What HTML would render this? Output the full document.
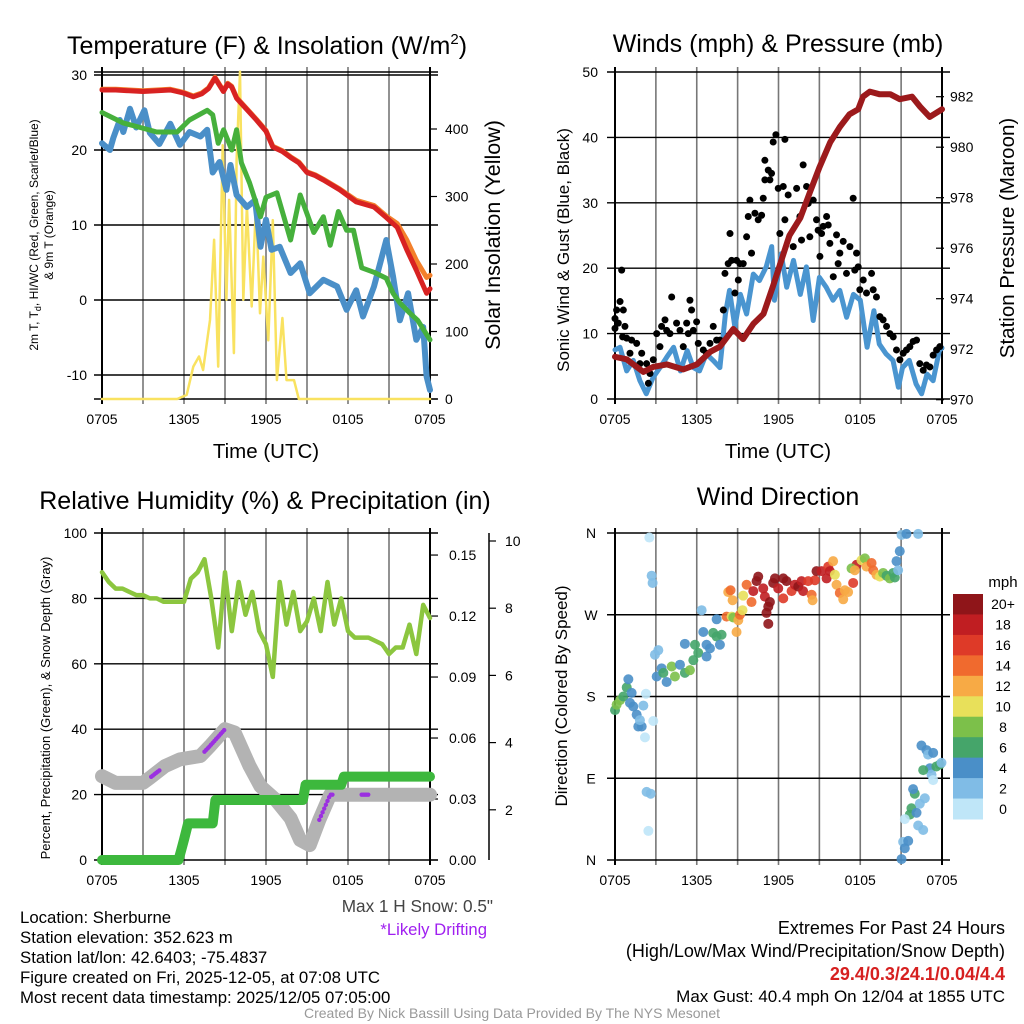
<!DOCTYPE html>
<html><head><meta charset="utf-8"><title>Mesonet Sherburne</title>
<style>
html,body{margin:0;padding:0;background:#fff;}
svg{display:block;font-family:"Liberation Sans",Arial,sans-serif;}
</style></head>
<body>
<svg id="c" width="1024" height="1024" viewBox="0 0 1024 1024" xmlns="http://www.w3.org/2000/svg">
<rect x="0" y="0" width="1024" height="1024" fill="#fff"/>
<g id="layer"></g>
<!-- titles -->
<text x="267" y="54" font-size="25" text-anchor="middle">Temperature (F) &amp; Insolation (W/m<tspan dy="-10" font-size="15">2</tspan><tspan dy="10">)</tspan></text>
<text x="778" y="52" font-size="25" text-anchor="middle">Winds (mph) &amp; Pressure (mb)</text>
<text x="265" y="509" font-size="25" text-anchor="middle">Relative Humidity (%) &amp; Precipitation (in)</text>
<text x="778" y="505" font-size="25" text-anchor="middle">Wind Direction</text>
<text x="266" y="458" font-size="20.5" text-anchor="middle">Time (UTC)</text>
<text x="778" y="458" font-size="20.5" text-anchor="middle">Time (UTC)</text>
<!-- axis titles -->
<text transform="translate(38,235) rotate(-90)" font-size="12" text-anchor="middle">2m T, T<tspan dy="3" font-size="9">d</tspan><tspan dy="-3">, HI/WC (Red, Green, Scarlet/Blue)</tspan></text>
<text transform="translate(53,235) rotate(-90)" font-size="12" text-anchor="middle">&amp; 9m T (Orange)</text>
<text transform="translate(500,235) rotate(-90)" font-size="21.5" text-anchor="middle">Solar Insolation (Yellow)</text>
<text transform="translate(569,250) rotate(-90)" font-size="17" text-anchor="middle">Sonic Wind &amp; Gust (Blue, Black)</text>
<text transform="translate(1014,238) rotate(-90)" font-size="20.5" text-anchor="middle">Station Pressure (Maroon)</text>
<text transform="translate(50,708) rotate(-90)" font-size="13" text-anchor="middle">Percent, Precipitation (Green), &amp; Snow Depth (Gray)</text>
<text transform="translate(567,696) rotate(-90)" font-size="17" text-anchor="middle">Direction (Colored By Speed)</text>
<!-- footer text -->
<text x="20" y="923" font-size="16.8">Location: Sherburne</text>
<text x="20" y="943" font-size="16.8">Station elevation: 352.623 m</text>
<text x="20" y="963" font-size="16.8">Station lat/lon: 42.6403; -75.4837</text>
<text x="20" y="983" font-size="16.8">Figure created on Fri, 2025-12-05, at 07:08 UTC</text>
<text x="20" y="1003" font-size="16.8">Most recent data timestamp: 2025/12/05 07:05:00</text>
<text x="493" y="912" font-size="17.2" text-anchor="end" fill="#444">Max 1 H Snow: 0.5"</text>
<text x="487" y="935" font-size="16.7" text-anchor="end" fill="#a020f0">*Likely Drifting</text>
<text x="1005" y="934" font-size="18" text-anchor="end">Extremes For Past 24 Hours</text>
<text x="1005" y="957" font-size="18" text-anchor="end">(High/Low/Max Wind/Precipitation/Snow Depth)</text>
<text x="1005" y="980" font-size="18" font-weight="bold" text-anchor="end" fill="#d62020">29.4/0.3/24.1/0.04/4.4</text>
<text x="1005" y="1002" font-size="17" text-anchor="end">Max Gust: 40.4 mph On 12/04 at 1855 UTC</text>
<text x="512" y="1018" font-size="14" text-anchor="middle" fill="#999">Created By Nick Bassill Using Data Provided By The NYS Mesonet</text>
<text x="1003" y="587" font-size="15" text-anchor="middle">mph</text>
</svg>
<script>
// ---------- DATA ----------
const xTickLabels = ["0705","1305","1905","0105","0705"];
const tempTicks = [30,20,10,0,-10];
const solarTicks = [0,100,200,300,400];
const windTicks = [0,10,20,30,40,50];
const presTicks = [970,972,974,976,978,980,982];
const rhTicks = [0,20,40,60,80,100];
const precipTicks = [0.00,0.03,0.06,0.09,0.12,0.15];
const precipTickLabels = ["0.00","0.03","0.06","0.09","0.12","0.15"];
const snowTicks = [2,4,6,8,10];
const dirTicks = [0,90,180,270,360];
const dirTickLabels = ["N","E","S","W","N"];
const speedBins = [0,2,4,6,8,10,12,14,16,18,20];
const speedBinLabels = ["0","2","4","6","8","10","12","14","16","18","20+"];
const speedColors = ["#bfe6f8","#80bce6","#4a8fc8","#45a56a","#7cc04a","#e8e05a","#f7aa45","#f06a2e","#de3a28","#c01e22","#8f1519"];

const redHours = [0,1,2,3,4,5,5.95,6.68,7.3,7.8,8.27,8.88,9.2,9.49,9.85,10.5,11.3,12,12.5,13.2,13.8,14.4,15,15.6,16.2,17.4,18.6,19.9,20.8,21.6,22.3,23,23.75,24];
const redVals = [28,28,27.9,27.8,27.9,28,27.6,27.1,27.5,28.2,29.6,27.8,28.8,28.4,26.9,25.6,24,22.5,20.4,19.8,19,18.3,17,16.6,16,14.7,13.1,12.4,11,9.7,6.7,4,0.9,1.5];
const orangeVals = [28.1,28.1,28,27.9,28,28.1,27.7,27.2,27.6,28.3,29.7,27.9,28.9,28.5,27,25.7,24.1,22.6,20.5,19.9,19.1,18.4,17.1,16.7,16.1,14.8,13.3,12.6,11.2,10.2,8,5.3,3,3.3];
const greenHours = [0,1.56,2.8,4,5.5,6.4,7.7,8.1,8.5,8.9,9.5,9.85,10.2,10.8,11.6,12,12.8,13.8,14.5,15.5,16.2,16.7,17.3,17.9,18.4,19,19.9,20.8,21.3,21.8,22.5,23.1,24];
const greenVals = [25,23.6,23,22.4,22.4,24,25.3,24.7,20.9,22.7,20,22.7,18.3,15.6,11.1,13.7,14.3,8,14,9,11.1,7.3,11.8,9.3,9.3,4.3,3.7,2.9,0.9,-0.4,-1.7,-2.7,-5.3];
const blueHours = [0,0.58,0.83,1.3,1.56,2.05,2.5,3.1,3.5,4.2,5,5.7,6.4,7.2,7.7,8.1,8.6,9.1,9.4,9.85,10.6,11.2,11.6,12,12.4,13,13.8,14.5,15.2,16.2,17.2,17.9,18.6,19.1,19.9,20.8,21.3,21.8,22.4,23,23.5,23.75,24];
const blueVals = [20.9,20,21.6,24,22.4,25.5,23,25.3,22.3,20.8,23.5,20.7,22.4,21.8,22.7,17,18.4,14.7,18,14,12.4,13.3,7.1,10.7,6.7,7.1,3.6,4.9,0.9,2.7,1.8,-1.3,1.3,-2.2,1.8,8,3.1,-2.7,0.9,-5.3,-3.6,-10.2,-12];
const solarHours = [0,5.5,6.2,6.68,7.1,7.4,7.9,8.2,8.5,8.83,9.1,9.3,9.65,9.85,10.1,10.34,10.6,10.95,11.27,11.56,11.8,12.17,12.5,12.8,13.2,13.5,14.05,14.4,24];
const solarVals = [0,0,6,48,63,43,117,236,48,376,147,295,68,354,485,147,285,137,290,127,211,87,265,28,120,28,28,0,0];

const windHours = [0,0.37,0.86,1.34,1.83,2.3,2.8,3.3,3.8,4.3,4.8,5.3,5.75,6.2,6.7,7.2,7.7,8.1,8.4,8.8,9.2,9.66,10.15,10.6,11.1,11.5,11.7,12.2,12.6,13.1,13.6,14.05,14.55,15,15.5,16,16.5,17,17.5,18,18.5,19,19.4,19.9,20.4,20.8,21.1,21.6,22.1,22.5,22.9,23.35,23.8,24];
const windVals = [7.5,7.9,4.3,5.9,2.8,0.8,3.3,4.8,6.4,7.9,4.3,7.4,4.8,4.3,6.9,5.9,4.8,13,16.6,11,16,13,19.1,18.1,20.2,23.3,15.1,22.2,17.1,21.2,16,20.2,12,18.6,17.1,15.1,16.6,12.5,16,15.1,7.9,13.5,8.4,6.9,5.9,1.8,4.8,5.9,2.3,0.8,3.8,2.8,7.4,7.8];
const gustHours = [0,0,0.12,0.37,0.49,0.61,0.24,0.73,0.56,0.86,1.22,1.59,1.1,1.96,1.83,2.32,2.57,2.45,2.81,3.06,3.3,3.42,3.67,3.79,4.03,4.16,4.52,4.77,5.01,5.26,5.5,5.62,5.38,5.75,5.99,6.11,6.48,6.72,6.97,7.21,7.46,7.7,7.95,8.07,8.31,8.56,8.44,8.92,9.17,9.41,8.8,9.05,9.66,9.78,9.9,10.02,10.27,10.51,10.76,10.88,11.0,11.25,11.37,11.49,11.0,11.61,11.81,11.98,12.35,12.47,12.71,12.1,12.47,13.08,13.33,13.57,13.81,13.69,14.06,14.18,14.3,14.55,14.79,14.91,15.04,15.16,15.28,15.53,15.65,15.77,16.02,16.26,16.38,16.5,16.75,16.99,17.24,17.48,17.73,17.85,17.6,17.97,18.22,18.46,18.83,18.95,19.19,19.44,19.68,19.93,20.17,20.42,20.66,20.91,21.15,21.39,21.64,21.88,22.13,22.37,22.62,22.86,23.11,23.35,23.6,23.84];
const gustVals = [10.8,12.3,13.6,14.9,19.7,13.6,11.6,11.1,9.5,9.3,9.0,8.5,7.0,7.0,5.4,5.4,3.9,2.4,6.0,10.0,8.0,11.1,12.1,10.5,10.0,15.6,11.6,10.5,8.0,11.6,15.1,13.6,10.0,10.5,11.8,8.5,7.5,7.0,8.5,11.1,9.0,9.0,13.6,19.2,20.7,21.2,25.3,21.2,20.7,20.7,16.2,18.2,24.8,27.9,30.4,22.3,28.4,27.4,28.1,30.7,36.5,35.0,33.5,34.5,33.5,39.3,40.4,32.2,32.5,39.7,31.2,25.3,27.4,23.3,32.2,27.9,35.8,24.3,32.5,29.9,24.8,30.4,27.4,25.8,21.8,25.3,26.4,27.9,26.6,23.8,18.7,25.1,20.7,22.3,24.1,19.2,23.3,30.7,22.3,20.2,19.7,16.7,18.2,16.2,19.2,16.7,15.6,12.6,12.1,11.1,10.0,9.5,7.5,6.0,7.0,7.5,8.0,8.8,9.0,5.4,4.4,5.2,4.9,6.7,7.5,8.0];
const presHours = [0,0.86,2.08,2.8,3.8,5,6,7,7.7,8.68,9.4,10.15,10.9,11.6,12.2,12.8,13.6,14.3,15,15.8,16.5,17.2,17.85,18.2,18.7,19.4,20.2,20.9,21.8,22.4,23.1,24];
const presVals = [971.7,971.6,971.1,971.3,971.4,971.2,971.4,971.9,972.1,972.8,972.4,973.0,973.4,974.5,975.5,976.5,977.2,978.2,979.2,980.2,980.8,981.3,981.5,982.0,982.2,982.1,982.1,981.9,982.0,981.6,981.2,981.5];

const rhHours = [0,0.5,1,1.5,2,2.5,3,3.5,4,4.5,5,5.5,6,6.5,7,7.5,8,8.5,9,9.5,10,10.5,11,11.5,12,12.5,13,13.5,14,14.5,15,15.5,16,16.5,17,17.5,18,18.5,19,19.5,20,20.5,21,21.5,22,22.5,23,23.5,24];
const rhVals = [88,85,83,83,82,81,81,80,80,79,79,79,79,86,88,92,80,65,88,70,85,75,82,70,66,56,85,72,82,70,73,80,70,85,72,80,70,68,68,68,67,66,63,65,65,72,63,78,74];
const precipHours = [0,5.6,5.8,6.0,6.3,8.1,8.3,14.7,14.9,17.5,17.7,24];
const precipVals = [0,0,0.005,0.01,0.018,0.018,0.0295,0.0295,0.037,0.037,0.041,0.041];
const snowHours = [0,1,3,3.5,4.6,5.7,7.2,7.9,9.0,9.7,10.8,11.6,12.7,13.8,14.5,15.2,15.9,16.7,17.8,24];
const snowVals = [3.0,2.8,2.8,2.95,3.3,3.5,3.6,3.9,4.4,4.3,3.3,2.7,2.3,1.75,1.1,0.95,1.7,2.45,2.45,2.45];
const driftStart = [3.6,7.5,15.9,19.0];
const driftEnd = [4.3,9.0,16.9,19.5];

const dirHours = [2.52,2.69,2.76,2.32,2.62,2.45,2.27,2.08,2.81,2.2,0,0.12,0.37,0.61,0.86,0.98,1.22,1.1,1.34,1.59,1.71,1.96,1.83,3.06,3.42,3.55,3.79,4.16,4.4,4.77,5.13,5.5,5.75,5.87,6.11,5.13,2.93,3.18,6.48,6.72,6.97,7.21,7.46,7.7,7.82,7.46,6.36,6.72,8.19,8.56,8.68,8.92,9.05,9.17,9.36,8.31,8.63,8.48,9.41,9.66,10.02,10.15,10.39,10.51,10.88,11.0,11.25,11.37,11.25,11.12,11.61,11.74,11.98,12.35,12.59,12.35,12.96,13.2,13.45,13.69,13.81,14.18,14.43,14.5,14.67,14.79,15.16,15.53,15.65,15.77,16.01,16.14,16.26,16.5,16.75,16.87,17.11,17.48,17.73,17.36,17.6,18.09,18.34,18.46,18.83,18.95,19.19,19.44,19.68,19.93,20.17,20.42,20.54,20.66,20.78,20.9,21.03,21.39,22.25,21.03,21.15,21.27,21.52,21.64,21.76,22.0,21.88,22.13,22.25,22.62,22.37,22.74,22.49,22.86,22.98,23.35,23.11,23.23,23.35,22.62,23.59,23.84,23.96,21.27];
const dirVals = [355,313,305,75,73,32,183,170,153,135,165,171,176,180,190,199,184,173,169,160,147,147,154,202,211,206,196,213,202,215,206,209,220,237,228,238,226,231,251,237,233,250,246,237,248,265,275,224,268,268,267,251,264,270,275,295,286,297,291,303,284,296,307,312,299,290,279,284,260,272,305,310,299,310,307,288,296,303,301,307,296,307,292,286,308,318,318,310,323,318,329,314,303,294,287,297,295,305,325,321,319,330,332,323,327,319,314,312,316,313,310,316,311,329,319,340,358,359,359,1,20,13,21,50,57,73,78,52,38,33,62,68,126,121,116,118,101,94,88,99,103,105,107,45];
const dirSpeeds = [0,2,2,2,2,0,0,2,0,0,6,8,8,6,6,4,4,4,4,4,4,4,2,4,4,6,4,8,8,4,6,8,6,6,6,4,2,2,4,4,4,6,6,4,6,4,2,4,14,10,8,12,12,14,10,12,12,14,10,14,14,18,20,20,18,18,20,20,20,20,20,20,18,20,20,16,16,18,20,18,18,16,14,12,16,20,18,18,16,18,12,10,12,14,12,12,12,16,18,8,12,10,8,12,14,14,12,10,8,6,8,6,6,4,2,4,2,4,2,4,2,4,4,6,6,6,4,4,2,2,2,2,4,4,2,4,4,2,0,6,6,6,2];

// ---------- AXES ----------
const NS = "http://www.w3.org/2000/svg";
const layer = document.getElementById("layer");
const L = {x0:102, x1:430};
const R = {x0:615, x1:942};
const hx = (P,h) => P.x0 + h*(P.x1-P.x0)/24;
const tempY = v => 300 - v*7.5;
const solarY = v => 399 - v*0.675;
const windY = v => 399 - v*6.54;
const presY = v => 399.7 - (v-970)*25.25;
const rhY = v => 860 - v*3.27;
const precipY = v => 860 - v*2033;
const snowY = v => 877 - v*33.6;
const dirY = d => 860 - d*327/360;

function add(tag, attrs, parent){
  const el = document.createElementNS(NS, tag);
  for (const k in attrs) el.setAttribute(k, attrs[k]);
  (parent||layer).appendChild(el);
  return el;
}
function txt(x,y,s,size,anchor,fill){
  const el = add("text",{x:x,y:y,"font-size":size,"text-anchor":anchor,fill:fill||"#000"});
  el.textContent = s;
  return el;
}
function pts(P,hours,vals,yf){
  return hours.map((h,i)=>hx(P,h).toFixed(1)+","+yf(vals[i]).toFixed(1)).join(" ");
}

function panelGrid(P,y0,y1,hLines,prefix){
  for(let k=0;k<=8;k++){
    const x = P.x0 + k*(P.x1-P.x0)/8;
    const el = add("line",{x1:x,y1:y0-5,x2:x,y2:y1+5,stroke:(k==0||k==8)?"#000":"#777","stroke-width":(k==0||k==8)?2:1.6});
    
    
  }
  hLines.forEach(y=>{
    const el = add("line",{x1:P.x0-8,y1:y,x2:P.x1+8,y2:y,stroke:"#000","stroke-width":1.4});
    
    
  });
  xTickLabels.forEach((s,i)=>{
    const el = txt(P.x0 + i*(P.x1-P.x0)/4, y1+25, s, 14, "middle");
    
    
  });
}
panelGrid(L,72,399,[72,tempY(30),tempY(20),tempY(10),tempY(0),tempY(-10),399],"temp");
panelGrid(R,72,399,[72,windY(10),windY(20),windY(30),windY(40),399],"wind");
panelGrid(L,533,860,rhTicks.map(rhY),"humidity");
panelGrid(R,533,860,dirTicks.map(dirY),"direction");

tempTicks.forEach(v=>{const el=txt(87,tempY(v)+5,String(v),14,"end");

});
solarTicks.forEach(v=>{const el=txt(445,solarY(v)+5,String(v),14,"start");


const t=add("line",{x1:430,y1:solarY(v),x2:437,y2:solarY(v),stroke:"#000","stroke-width":1.2});

});
windTicks.forEach(v=>{const el=txt(598,windY(v)+5,String(v),14,"end");

});
presTicks.forEach(v=>{const el=txt(950,presY(v)+5,String(v),14,"start");


const t=add("line",{x1:936,y1:presY(v),x2:944,y2:presY(v),stroke:"#000","stroke-width":1.2});

});
rhTicks.forEach(v=>{const el=txt(87,rhY(v)+5,String(v),14,"end");

});
precipTicks.forEach((v,i)=>{const el=txt(449,precipY(v)+5,precipTickLabels[i],14,"start");


const t=add("line",{x1:430,y1:precipY(v),x2:438,y2:precipY(v),stroke:"#000","stroke-width":1.2});

});
{const el=add("line",{x1:489,y1:533,x2:489,y2:860,stroke:"#000","stroke-width":1.5});

}
snowTicks.forEach(v=>{const el=txt(505,snowY(v)+5,String(v),14,"start");


const t=add("line",{x1:489,y1:snowY(v),x2:496,y2:snowY(v),stroke:"#000","stroke-width":1.2});

});
dirTicks.forEach((v,i)=>{const el=txt(591,dirY(v)+5,dirTickLabels[i],14,"middle");

});

// ---------- SERIES ----------
function series(P,h,v,yf,color,w){
  return add("polyline",{points:pts(P,h,v,yf),fill:"none",stroke:color,"stroke-width":w,"stroke-linejoin":"round","stroke-linecap":"round"});
}
let s;
s = series(L,solarHours,solarVals,solarY,"#f9e260",2.5);


s = series(L,blueHours,blueVals,tempY,"#4a8fc8",6);


s = series(L,greenHours,greenVals,tempY,"#46b03c",5);


s = series(L,redHours,orangeVals,tempY,"#f3802c",5);


s = series(L,redHours,redVals,tempY,"#d82222",5);



s = series(R,windHours,windVals,windY,"#4a95d0",5);


gustHours.forEach((h,i)=>{
  const d = add("circle",{cx:hx(R,h),cy:windY(gustVals[i]),r:3.5,fill:"#000"});
  
  
});
s = series(R,presHours,presVals,presY,"#9c1a1c",6);



s = series(L,rhHours,rhVals,rhY,"#8cc63f",4.5);


s = series(L,snowHours,snowVals,snowY,"#b3b3b3",14);


s = series(L,precipHours,precipVals,precipY,"#3db83d",10);


function snowAt(h){
  for(let i=1;i<snowHours.length;i++){
    if(h<=snowHours[i]){const t=(h-snowHours[i-1])/(snowHours[i]-snowHours[i-1]);return snowVals[i-1]+t*(snowVals[i]-snowVals[i-1]);}
  }
  return snowVals[snowVals.length-1];
}
driftStart.forEach((a,i)=>{
  for(let h=a;h<=driftEnd[i]+1e-6;h+=0.12){
    const d = add("circle",{cx:hx(L,h),cy:snowY(snowAt(h)),r:2.2,fill:"#9b30e0"});
    
    
  }
});

function speedColor(v){let k=0;for(let i=0;i<speedBins.length;i++){if(v>=speedBins[i])k=i;}return speedColors[k];}
dirHours.forEach((h,i)=>{
  const d = add("circle",{cx:hx(R,h),cy:dirY(dirVals[i]),r:5,fill:speedColor(dirSpeeds[i]),"fill-opacity":0.9});
  
  
});

const cbTop=594, cbH=225/11;
speedColors.slice().reverse().forEach((c,i)=>{
  const r = add("rect",{x:953,y:cbTop+i*cbH,width:30,height:cbH+0.5,fill:c});
  
  
  const t = txt(1003,cbTop+i*cbH+cbH/2+5,speedBinLabels[speedBinLabels.length-1-i],14,"middle");
  
  
});
</script>
</body></html>
